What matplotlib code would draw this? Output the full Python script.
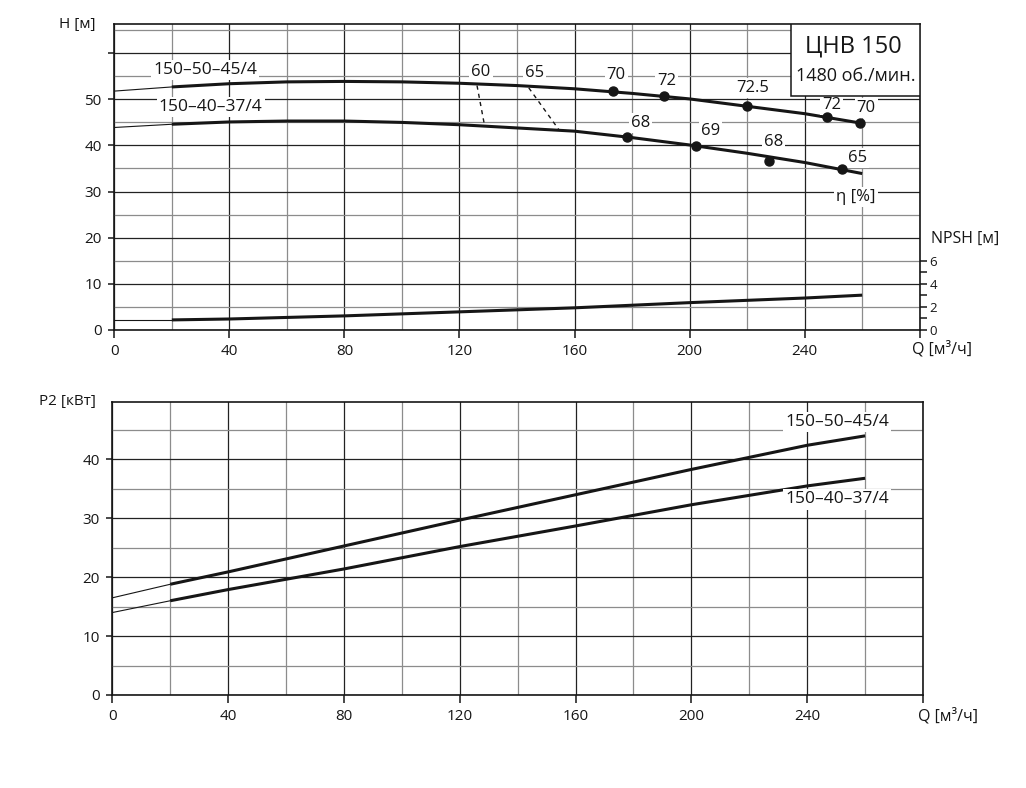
import matplotlib
matplotlib.use("Agg")
import matplotlib.pyplot as plt
from matplotlib.patches import Rectangle
from matplotlib.ticker import MultipleLocator, FuncFormatter

plt.rcParams['font.family'] = ['Open Sans', 'DejaVu Sans']

# head curves H(Q), m
q_head = [20, 40, 60, 80, 100, 120, 140, 160, 180, 200, 220, 240, 260]
h_50_45 = [52.7, 53.4, 53.8, 53.9, 53.8, 53.5, 53.0, 52.3, 51.3, 50.1, 48.5, 46.9, 44.8]
h_40_37 = [44.6, 45.1, 45.3, 45.3, 45.0, 44.5, 43.8, 43.1, 41.7, 40.1, 38.3, 36.3, 33.9]
q_ext = [0, 20]
h_50_45_ext = [51.8, 52.7]
h_40_37_ext = [43.9, 44.6]

# efficiency points on head curves
eta_q_50_45 = [173.4, 191.2, 219.8, 247.7, 259.3]
eta_h_50_45 = [51.8, 50.7, 48.5, 46.2, 44.8]
eta_lbl_50_45 = ['70', '72', '72.5', '72', '70']
eta_q_40_37 = [178.1, 202.1, 227.7, 253.1]
eta_h_40_37 = [41.8, 39.9, 36.7, 34.9]
eta_lbl_40_37 = ['68', '69', '68', '65']

# iso-efficiency lines 60 and 65
iso_60_q = [126.1, 128.7]
iso_60_h = [53.0, 44.4]
iso_65_q = [144.1, 154.7]
iso_65_h = [52.5, 43.3]

# NPSH, m
q_npsh = [20, 40, 80, 120, 160, 200, 240, 260]
npsh = [0.85, 0.93, 1.2, 1.55, 1.9, 2.35, 2.75, 3.0]
npsh_ext = [0.85, 0.85]

# power P2, kW
q_pow = [20, 40, 80, 120, 160, 200, 240, 260]
p_50_45 = [18.8, 20.9, 25.3, 29.7, 34.0, 38.3, 42.4, 44.0]
p_40_37 = [16.0, 17.9, 21.4, 25.2, 28.7, 32.3, 35.5, 36.8]
p_50_45_ext = [16.5, 18.8]
p_40_37_ext = [14.0, 16.0]

W, H = 1026, 788
BLACK = '#161616'


def style_axes(ax, ymax, last_label):
    ax.set_xlim(0, 280)
    ax.set_ylim(0, ymax)
    ax.xaxis.set_major_locator(MultipleLocator(40))
    ax.xaxis.set_minor_locator(MultipleLocator(20))
    ax.yaxis.set_major_locator(MultipleLocator(10))
    ax.yaxis.set_minor_locator(MultipleLocator(5))
    ax.xaxis.set_major_formatter(FuncFormatter(lambda v, p: '' if v >= 280 else '%d' % v))
    ax.yaxis.set_major_formatter(FuncFormatter(lambda v, p: '' if v > last_label else '%d' % v))
    ax.grid(which='major', color='#222222', lw=0.9)
    ax.grid(which='minor', color='#8c8c8c', lw=0.9)
    ax.set_axisbelow(True)
    ax.tick_params(axis='x', which='major', direction='out', length=5.5, width=1.1,
                   labelsize=11, colors=BLACK, pad=4.5)
    ax.tick_params(axis='y', which='major', direction='out', length=4, width=1.1,
                   labelsize=11, colors=BLACK, pad=5)
    ax.tick_params(which='minor', length=0)
    for s in ax.spines.values():
        s.set_linewidth(1.2)
        s.set_color(BLACK)


def label(ax, x, y, txt, size=12, **kw):
    ax.text(x, y, txt, fontsize=size, ha='center', va='center', color=BLACK, zorder=6,
            bbox=dict(fc='white', ec='none', pad=1.5), **kw)


def eta_note(ax, q, h, txt, off):
    ax.annotate(txt, (q, h), xytext=off, textcoords='offset pixels', fontsize=12,
                ha='center', va='center', color=BLACK, zorder=6,
                bbox=dict(fc='white', ec='none', pad=1.5))


fig = plt.figure(figsize=(W / 100, H / 100), dpi=100)

# ---------- top: head chart ----------
ax = fig.add_axes([114.3 / W, 1 - 329.7 / H, (919.7 - 114.3) / W, (329.7 - 24.3) / H])
style_axes(ax, 66.3, 50)

ax.plot(q_ext, h_50_45_ext, color=BLACK, lw=0.8, zorder=4)
ax.plot(q_ext, h_40_37_ext, color=BLACK, lw=0.8, zorder=4)
ax.plot(q_head, h_50_45, color=BLACK, lw=2.2, zorder=4, solid_capstyle='butt')
ax.plot(q_head, h_40_37, color=BLACK, lw=2.2, zorder=4, solid_capstyle='butt')
ax.plot(iso_60_q, iso_60_h, color=BLACK, lw=1.0, ls=(0, (3, 3)), zorder=4)
ax.plot(iso_65_q, iso_65_h, color=BLACK, lw=1.0, ls=(0, (3, 3)), zorder=4)
ax.plot(eta_q_50_45, eta_h_50_45, 'o', color=BLACK, ms=6.5, zorder=7)
ax.plot(eta_q_40_37, eta_h_40_37, 'o', color=BLACK, ms=6.5, zorder=7)

offs_50_45 = [(3, 16), (2, 15), (6, 18), (5, 12), (6, 15)]
for q, h, t, o in zip(eta_q_50_45, eta_h_50_45, eta_lbl_50_45, offs_50_45):
    eta_note(ax, q, h, t, o)
offs_40_37 = [(14, 14), (15, 15), (4, 19), (15, 11)]
for q, h, t, o in zip(eta_q_40_37, eta_h_40_37, eta_lbl_40_37, offs_40_37):
    eta_note(ax, q, h, t, o)
eta_note(ax, iso_60_q[0], iso_60_h[0], '60', (4, 14))
eta_note(ax, iso_65_q[0], iso_65_h[0], '65', (6, 15))

label(ax, 31.6, 56.4, '150–50–45/4', size=12.5)
label(ax, 33.5, 48.3, '150–40–37/4', size=12.5)
label(ax, 257.8, 28.9, 'η [%]', size=12)

# title box
ax.add_patch(Rectangle((0.8398, 0.766), 0.1602, 0.234, transform=ax.transAxes,
                       fc='white', ec=BLACK, lw=1.1, zorder=8))
ax.text(0.918, 0.926, 'ЦНВ 150', transform=ax.transAxes, fontsize=17, ha='center',
        va='center', color=BLACK, zorder=9)
ax.text(0.9205, 0.8295, '1480 об./мин.', transform=ax.transAxes, fontsize=13, ha='center',
        va='center', color=BLACK, zorder=9)

ax.annotate('H [м]', (0, 1), xycoords='axes fraction', xytext=(-19, 0),
            textcoords='offset pixels', ha='right', va='center', fontsize=11, color=BLACK)
ax.annotate('Q [м³/ч]', (1, 0), xycoords='axes fraction', xytext=(-8, -20),
            textcoords='offset pixels', ha='left', va='center', fontsize=11.5, color=BLACK)
ax.annotate('NPSH [м]', (1, 0.298), xycoords='axes fraction', xytext=(11, 0),
            textcoords='offset pixels', ha='left', va='center', fontsize=11.5, color=BLACK)

# NPSH on a twin scale (10 m of H = 4 m of NPSH)
ax2 = ax.twinx()
ax2.set_ylim(0, 66.3 * 0.4)
ax2.set_yticks([0, 2, 4, 6])
ax2.set_yticks([1, 3, 5], minor=True)
ax2.tick_params(which='both', direction='out', length=5, width=1.1, labelsize=9.5,
                colors=BLACK, pad=2)
for s in ax2.spines.values():
    s.set_visible(False)
ax2.plot(q_ext, npsh_ext, color=BLACK, lw=0.8, zorder=4)
ax2.plot(q_npsh, npsh, color=BLACK, lw=2.2, zorder=4, solid_capstyle='butt')

# ---------- bottom: power chart ----------
bx = fig.add_axes([112.3 / W, 1 - 695 / H, (923 - 112.3) / W, (695 - 401.7) / H])
style_axes(bx, 49.8, 40)
bx.plot(q_ext, p_50_45_ext, color=BLACK, lw=0.8, zorder=4)
bx.plot(q_ext, p_40_37_ext, color=BLACK, lw=0.8, zorder=4)
bx.plot(q_pow, p_50_45, color=BLACK, lw=2.2, zorder=4, solid_capstyle='butt')
bx.plot(q_pow, p_40_37, color=BLACK, lw=2.2, zorder=4, solid_capstyle='butt')
label(bx, 250.4, 46.4, '150–50–45/4', size=12.5)
label(bx, 250.4, 33.2, '150–40–37/4', size=12.5)

bx.annotate('P2 [кВт]', (0, 1), xycoords='axes fraction', xytext=(-16, 0),
            textcoords='offset pixels', ha='right', va='center', fontsize=11, color=BLACK)
bx.annotate('Q [м³/ч]', (1, 0), xycoords='axes fraction', xytext=(-5, -21),
            textcoords='offset pixels', ha='left', va='center', fontsize=11.5, color=BLACK)

fig.savefig('out.png', dpi=100)
